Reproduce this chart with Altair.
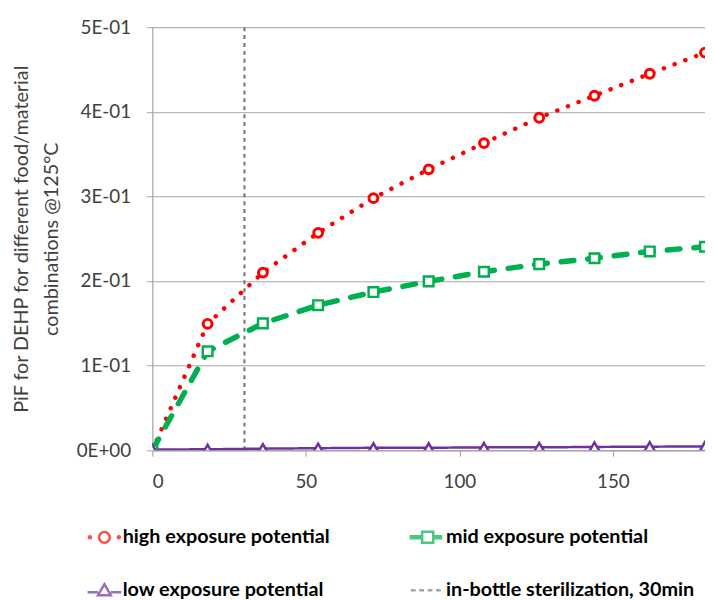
import altair as alt
import pandas as pd

# ---- data ----
time_min = [0, 18, 36, 54, 72, 90, 108, 126, 144, 162, 180]
high_exposure = [0.0, 0.1495, 0.210, 0.257, 0.298, 0.332, 0.363, 0.393, 0.419, 0.445, 0.470]
mid_exposure = [0.0, 0.117, 0.150, 0.1715, 0.187, 0.1996, 0.211, 0.220, 0.227, 0.235, 0.2405]
low_exposure = [0.001, 0.0012, 0.002, 0.0025, 0.003, 0.003, 0.0035, 0.0035, 0.004, 0.0043, 0.0046]
sterilization_time = [30]

series_names = [
    "high exposure potential",
    "mid exposure potential",
    "low exposure potential",
    "in-bottle sterilization, 30min",
]
series_colors = ["#ff0000", "#00b050", "#7030a0", "#7f7f7f"]

y_ticks = [0, 0.1, 0.2, 0.3, 0.4, 0.5]
x_ticks = [0, 50, 100, 150]
y_title = ["PiF for DEHP for different food/material", "combinations @125°C"]

FONT = "Lato"

# ---- tables ----
rows = []
for name, vals in zip(series_names[:3], [high_exposure, mid_exposure, low_exposure]):
    for t, v in zip(time_min, vals):
        rows.append({"time": t, "value": v, "series": name})
df = pd.DataFrame(rows)
df_rule = pd.DataFrame({"time": sterilization_time, "series": [series_names[3]]})

x_enc = alt.X(
    "time:Q",
    scale=alt.Scale(domain=[0, 180], nice=False, zero=False),
    axis=alt.Axis(
        values=x_ticks, title=None, grid=False, domainColor="#a0a0a0",
        tickColor="#a0a0a0", tickSize=6, labelPadding=17,
        labelFont=FONT, labelFontSize=19, labelColor="#404040",
    ),
)
y_enc = alt.Y(
    "value:Q",
    scale=alt.Scale(domain=[0, 0.5], nice=False),
    axis=alt.Axis(
        values=y_ticks, title=y_title, grid=True, gridColor="#a6a6a6",
        domainColor="#a0a0a0", tickColor="#a6a6a6", tickSize=6, labelPadding=16,
        labelExpr="datum.value == 0 ? '0E+00' : format(datum.value*10, '.0f') + 'E-01'",
        labelFont=FONT, labelFontSize=19, labelColor="#404040",
        titleFont=FONT, titleFontSize=20, titleFontWeight="normal", titleColor="#404040",
        titleLineHeight=30, titlePadding=15,
    ),
)

base = alt.Chart(df)

rule = alt.Chart(df_rule).mark_rule(
    color="#707070", strokeWidth=2, strokeDash=[4, 4]
).encode(x=alt.X("time:Q"))

def line_layer(name, color, width, dash, cap):
    return base.transform_filter(alt.datum.series == name).mark_line(
        color=color, strokeWidth=width, strokeDash=dash, strokeCap=cap, clip=True
    ).encode(x=x_enc, y=y_enc)

def point_layer(name, color, shape, size, width):
    return base.transform_filter(alt.datum.series == name).mark_point(
        color=color, shape=shape, size=size, strokeWidth=width,
        filled=False, fill="white", fillOpacity=1, opacity=1, clip=True
    ).encode(x=x_enc, y=y_enc)

line_high = line_layer(series_names[0], series_colors[0], 4.5, [0.1, 11.5], "round")
line_mid = line_layer(series_names[1], series_colors[1], 5.5, [13, 14], "round")
line_low = line_layer(series_names[2], series_colors[2], 2.5, [1, 0], "butt")

pt_high = point_layer(series_names[0], series_colors[0], "circle", 80, 3)
pt_mid = point_layer(series_names[1], series_colors[1], "square", 95, 2.5)
pt_low = point_layer(series_names[2], series_colors[2], "triangle-up", 110, 2.5)

# legend symbols: line + marker glyphs (unit box -1..1)
legend_shapes = [
    "M-0.92,0A0.06,0.06 0 1,1 -0.8,0A0.06,0.06 0 1,1 -0.92,0Z"
    "M0.8,0A0.06,0.06 0 1,1 0.92,0A0.06,0.06 0 1,1 0.8,0Z"
    "M0.32,0A0.32,0.32 0 1,1 -0.32,0A0.32,0.32 0 1,1 0.32,0Z",
    "M-1,-0.06L-0.42,-0.06L-0.42,0.06L-1,0.06Z"
    "M0.42,-0.06L0.8,-0.06L0.8,0.06L0.42,0.06Z"
    "M-0.33,-0.33L0.33,-0.33L0.33,0.33L-0.33,0.33Z",
    "M-1,0.12L-0.38,0.12M0.38,0.12L1,0.12"
    "M0,-0.36L0.38,0.3L-0.38,0.3Z",
    "M-1,0L-0.72,0M-0.5,0L-0.22,0M0,0L0.28,0M0.5,0L0.78,0",
]

legend_layer = base.transform_filter("false").mark_point(filled=False).encode(
    x=x_enc, y=y_enc,
    color=alt.Color(
        "series:N",
        scale=alt.Scale(domain=series_names, range=series_colors),
        legend=alt.Legend(
            orient="none", legendX=-67, legendY=497, columns=2, direction="horizontal",
            columnPadding=76, rowPadding=24, title=None,
            labelFont=FONT, labelFontSize=20, labelFontWeight="bold",
            labelColor="black", labelOffset=0, labelLimit=0,
            symbolSize=1156, symbolStrokeWidth=2.5,
        ),
    ),
    shape=alt.Shape(
        "series:N",
        scale=alt.Scale(domain=series_names, range=legend_shapes),
    ),
)

chart = alt.layer(
    rule, line_high, line_mid, line_low, pt_high, pt_mid, pt_low, legend_layer
).properties(
    width=559, height=428,
    autosize=alt.AutoSizeParams(type="none"),
    padding={"left": 146, "top": 16, "right": 0, "bottom": 148},
).configure_view(stroke=None).configure(background="white")

chart.save("out.html", embed_options={"renderer": "svg", "actions": False})
